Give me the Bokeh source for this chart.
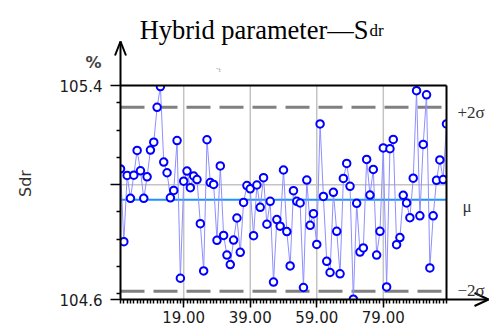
import math
from bokeh.plotting import figure
from bokeh.models import (Range1d, FixedTicker, NumeralTickFormatter, CustomJSTickFormatter,
                          Label, Arrow, ColumnDataSource)
from bokeh.embed import file_html
from bokeh.resources import INLINE

# ---------------- data ----------------
sample_index = list(range(99))
sdr_values = [
    105.058, 104.791, 105.034, 104.950, 105.035, 105.126, 105.051, 104.950, 105.029, 105.127,
    105.156, 105.284, 105.360, 105.083, 105.044, 104.952, 104.979, 105.162, 104.657, 105.013,
    105.050, 104.989, 105.032, 105.019, 104.857, 104.684, 105.165, 105.008, 105.001, 104.796,
    105.069, 104.814, 104.742, 104.707, 104.797, 104.878, 104.752, 104.935, 104.997, 104.985,
    104.813, 104.999, 104.917, 105.026, 104.855, 104.939, 104.643, 104.872, 104.848, 105.054,
    104.828, 104.702, 104.978, 104.939, 104.933, 104.623, 105.017, 104.851, 104.894, 104.781,
    105.223, 104.957, 104.719, 104.678, 104.972, 104.829, 104.673, 105.023, 105.078, 104.994,
    104.580, 104.932, 104.753, 104.768, 105.093, 104.962, 105.056, 104.742, 104.829, 105.135,
    104.625, 105.132, 105.166, 104.780, 104.806, 104.961, 104.933, 104.879, 105.024, 105.345,
    104.886, 105.148, 105.330, 104.695, 104.886, 105.016, 105.091, 105.019, 105.223,
]
mean_value = 104.945
plus_2sigma = 105.284
minus_2sigma = 104.609

x_min, x_max = 0, 98
y_min, y_max = 104.579, 105.364
y_mid_tick = 105.0
y_minor_ticks = [104.6, 104.7, 104.8, 104.9, 105.1, 105.2, 105.3]
x_major_ticks = [19, 39, 59, 79]
x_minor_ticks = list(range(0, 99))

title_main = "Hybrid parameter\u2014S"
title_sub = "dr"
y_label = "Sdr"
unit_label = "%"
band_labels = ["+2\u03c3", "\u03bc", "\u22122\u03c3"]

# ---------------- layout (page pixels) ----------------
W, H = 493, 328                       # canvas size
BOX_L, BOX_R, BOX_T, BOX_B = 120, 446, 85, 299   # plotting box on the page
sx = (BOX_R - BOX_L) / (x_max - x_min)
sy = (BOX_B - BOX_T) / (y_max - y_min)


def page_x(px):
    return x_min + (px - BOX_L) / sx


def page_y(py):
    return y_max - (py - BOX_T) / sy


xr = Range1d(page_x(0), page_x(W))
yr = Range1d(page_y(H), page_y(0))

p = figure(width=W, height=H, output_backend="svg", toolbar_location=None,
           x_range=xr, y_range=yr, min_border=0, title=None)
p.background_fill_color = "white"
p.border_fill_color = "white"
p.outline_line_color = None
p.grid.visible = False

# axes, drawn at the box edges
for ax in (p.xaxis, p.yaxis):
    ax.axis_line_color = "black"
    ax.axis_line_width = 2
    ax.major_tick_line_color = "black"
    ax.minor_tick_line_color = "black"
    ax.major_tick_line_width = 1.5
    ax.minor_tick_line_width = 1.5
    ax.major_tick_in = 0
    ax.minor_tick_in = 0
    ax.major_label_text_font = "DejaVu Sans"
    ax.major_label_text_font_size = "15px"
    ax.major_label_text_color = "#1a1a1a"

p.xaxis.fixed_location = y_min
p.xaxis.bounds = (x_min, page_x(488))
p.xaxis.ticker = FixedTicker(ticks=x_major_ticks, minor_ticks=x_minor_ticks)
p.xaxis.formatter = NumeralTickFormatter(format="0.00")
p.xaxis.major_tick_out = 8
p.xaxis.minor_tick_out = 4
p.xaxis.major_label_standoff = 3

p.yaxis.fixed_location = x_min
p.yaxis.bounds = (y_min, page_y(41))
p.yaxis.ticker = FixedTicker(ticks=[y_min, y_mid_tick, y_max], minor_ticks=y_minor_ticks)
p.yaxis.formatter = CustomJSTickFormatter(
    code=f"return Math.abs(tick - {y_mid_tick}) < 1e-6 ? '' : tick.toFixed(1);")
p.yaxis.major_tick_out = 10
p.yaxis.minor_tick_out = 4
p.yaxis.major_label_standoff = 8

# grid lines inside the box
p.segment(x0=x_major_ticks, y0=[y_min] * len(x_major_ticks), x1=x_major_ticks,
          y1=[y_max] * len(x_major_ticks), line_color="#c4c4c4", line_width=1.5)
p.segment(x0=[x_min], y0=[y_mid_tick], x1=[x_max], y1=[y_mid_tick],
          line_color="#c4c4c4", line_width=1.5)

# control lines
p.segment(x0=[x_min, x_min], y0=[plus_2sigma, minus_2sigma], x1=[x_max, x_max],
          y1=[plus_2sigma, minus_2sigma], line_color="#808080", line_width=3,
          line_dash="24 9")
p.segment(x0=[x_min], y0=[mean_value], x1=[x_max], y1=[mean_value],
          line_color="#1e90ff", line_width=2)

# data
src = ColumnDataSource(dict(x=sample_index, y=sdr_values))
p.line("x", "y", source=src, line_color="#8f8fff", line_width=1)
p.scatter("x", "y", source=src, marker="circle", size=7.5, line_color="#0000ff",
          fill_color="white", line_width=2)

# white masks outside the box (emulate clipping of the plotting box)
p.quad(left=[xr.start, x_max, x_min, x_min], right=[x_min, xr.end, x_max, x_max],
       bottom=[yr.start, yr.start, y_max, yr.start], top=[yr.end, yr.end, yr.end, y_min],
       fill_color="white", line_color=None)

# top and right border of the box
p.segment(x0=[x_min, x_max], y0=[y_max, y_min], x1=[x_max, x_max], y1=[y_max, y_max],
          line_color="black", line_width=2)


# arrow heads
def seg(x0, y0, x1, y1):
    p.add_layout(Arrow(start=None, end=None, x_start=x0, y_start=y0, x_end=x1, y_end=y1,
                       line_width=2, line_color="black"))


tip_y = page_y(41)
seg(page_x(114.5), page_y(55), x_min, tip_y)
seg(page_x(125.5), page_y(55), x_min, tip_y)
tip_x = page_x(488)
seg(page_x(474), page_y(292.5), tip_x, y_min)
seg(page_x(474), page_y(305.5), tip_x, y_min)

# texts
p.add_layout(Label(x=page_x(368), y=page_y(29.5), text=title_main, text_align="right",
                   text_baseline="alphabetic", text_font="Liberation Serif",
                   text_font_size="26.5px", text_color="black"))
p.add_layout(Label(x=page_x(369), y=page_y(29.5), text=title_sub, text_align="left",
                   text_baseline="alphabetic", text_font="Liberation Serif",
                   text_font_size="17px", text_color="black"))
p.add_layout(Label(x=page_x(93), y=page_y(62), text=unit_label, text_align="center",
                   text_baseline="middle", text_font="DejaVu Sans", text_font_size="16px",
                   text_font_style="bold", text_color="#444444"))
p.add_layout(Label(x=page_x(25), y=page_y(183), text=y_label, text_align="center",
                   text_baseline="middle", text_font="DejaVu Sans", text_font_size="16px",
                   text_color="#333333", angle=math.pi / 2))
for txt, py, px in zip(band_labels, [112, 206, 290], [457, 462, 457]):
    p.add_layout(Label(x=page_x(px), y=page_y(py), text=txt, text_align="left",
                       text_baseline="middle", text_font="Liberation Serif",
                       text_font_size="17px", text_color="#333333"))
p.add_layout(Label(x=page_x(218), y=page_y(68), text="\u00b7\u209c", text_align="center",
                   text_baseline="middle", text_font="DejaVu Sans", text_font_size="9px",
                   text_color="#999999"))

open("out.html", "w").write(file_html(p, INLINE))
